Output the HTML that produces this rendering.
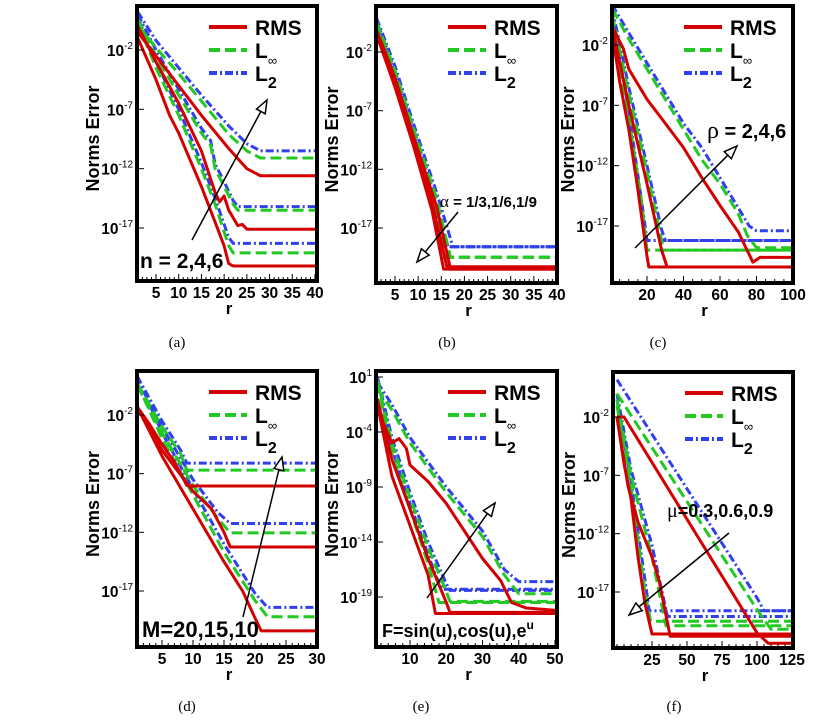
<!DOCTYPE html>
<html><head><meta charset="utf-8"><style>
body{margin:0;background:#fff;}
svg{display:block;font-family:"Liberation Sans",Arial,sans-serif;}
.tick{font-weight:bold;font-size:15.5px;}
.cap{font-family:"Liberation Serif",serif;font-size:15px;}
</style></head><body>
<svg id="fig" width="838" height="724" viewBox="0 0 838 724"></svg>
<script>
// ---------- data (x = r, y = log10 error) ----------
const aRMS=[[[1,-1],[5,-4.5],[8,-7.5],[10,-9],[15,-13.5],[18,-16.5],[20,-18.5],[21,-20],[22,-20.2],[40,-20.2]],
 [[1,0],[5,-3],[10,-6.5],[15,-10.5],[18,-14],[19,-14.8],[20,-14.3],[21,-15.5],[23,-16.8],[24,-16.7],[25,-17.1],[40,-17.1]],
 [[1,-0.5],[5,-2.5],[10,-5],[15,-7.5],[21,-10.3],[25,-12],[28,-12.6],[40,-12.6]]];
const aLinf=[[[1,0.3],[5,-3.5],[10,-7.5],[15,-12],[18,-15],[21,-18.5],[22,-19.1],[40,-19.1]],
 [[1,0.6],[5,-2.5],[10,-5.8],[15,-9],[17,-10],[18,-12],[20,-13.5],[22,-15],[23,-15.5],[40,-15.5]],
 [[1,0.1],[5,-1.8],[10,-4],[15,-6.3],[21,-9.1],[25,-10.5],[28,-11.1],[40,-11.1]]];
const aL2=[[[1,0.8],[5,-3],[10,-7],[15,-11.5],[18,-14.5],[21,-17.8],[22,-18.3],[40,-18.3]],
 [[1,1],[5,-2],[10,-5.3],[15,-8.6],[17,-9.6],[18,-11.6],[20,-13.1],[22,-14.7],[23,-15.2],[40,-15.2]],
 [[1,1.2],[5,-1.2],[10,-3.5],[15,-5.8],[21,-8.4],[25,-9.9],[28,-10.5],[40,-10.5]]];
const bRMS=[[[1,-0.5],[5,-5],[9,-10],[13,-15.5],[15.5,-20.5],[40,-20.5]],
 [[1,-0.3],[5,-4.6],[9,-9.6],[13,-14.8],[16.2,-20.3],[40,-20.3]],
 [[1,-0.1],[5,-4.2],[9,-9.2],[14,-15.2],[17,-20.5],[40,-20.5]]];
const bLinf=[[[1,0.2],[5,-4.4],[9,-9.3],[13,-14.8],[15.5,-19.5],[40,-19.5]],
 [[1,0.4],[5,-4],[9,-8.9],[13,-14.1],[16.3,-19.5],[40,-19.5]],
 [[1,0.6],[5,-3.6],[9,-8.5],[14,-14.5],[17,-19.5],[40,-19.5]]];
const bL2=[[[1,0.5],[5,-4],[9,-8.9],[13,-14.4],[15.5,-18.6],[40,-18.6]],
 [[1,0.7],[5,-3.6],[9,-8.5],[13,-13.7],[16.4,-18.6],[40,-18.6]],
 [[1,0.9],[5,-3.2],[9,-8.1],[14,-14],[17.5,-18.6],[40,-18.6]]];
const cRMS=[[[1,-1],[5,-5],[10,-9],[15,-14],[20,-19.5],[21,-20.4],[100,-20.4]],
 [[1,-0.5],[10,-7],[20,-13.5],[28,-19],[31,-20.4],[100,-20.4]],
 [[1,-0.5],[7,-2.3],[10,-4],[20,-6.5],[30,-8.5],[40,-10.5],[50,-13],[60,-15.3],[70,-17.5],[78,-20],[82,-19.6],[100,-19.6]]];
const cLinf=[[[1,0],[10,-8],[17,-15],[20,-19],[100,-19]],
 [[1,0.5],[10,-6],[20,-12.5],[27,-17.5],[29,-19],[100,-19]],
 [[1,1],[10,-1.5],[20,-4],[30,-6.5],[40,-9],[50,-11.5],[60,-13.5],[70,-16],[75,-17.8],[80,-18.8],[100,-18.8]]];
const cL2=[[[1,0.5],[10,-7.5],[18,-16],[20,-18.2],[100,-18.2]],
 [[1,1],[10,-5.5],[20,-12],[28,-17.3],[30,-18.2],[100,-18.2]],
 [[1,1.3],[10,-1],[20,-3.5],[30,-6],[40,-8.5],[50,-10.5],[60,-13],[70,-15.5],[76,-17],[80,-17.4],[100,-17.4]]];
const dRMS=[[[1,-1.3],[5,-5.5],[10,-10],[15,-14.5],[18,-17],[20,-19.3],[21,-20.4],[30,-20.4]],
 [[1,-1.3],[5,-5],[10,-8.5],[13,-10],[15,-12],[16,-13.25],[30,-13.25]],
 [[1,-1.3],[3,-2.8],[5,-4.5],[7,-6],[9,-8],[10,-8.05],[30,-8.05]]];
const dLinf=[[[1,0.7],[5,-4],[10,-8.8],[15,-13.7],[20,-17.8],[22,-19.2],[30,-19.2]],
 [[1,0.5],[5,-3.5],[10,-8],[14,-10.8],[16,-12.05],[30,-12.05]],
 [[1,0.7],[5,-3],[8,-5.3],[9,-6.7],[30,-6.7]]];
const dL2=[[[1,1.3],[5,-3.5],[10,-8.3],[15,-13],[20,-17.2],[22,-18.4],[30,-18.4]],
 [[1,1.3],[5,-3],[10,-7.5],[14,-10.3],[16,-11.25],[30,-11.25]],
 [[1,1.3],[5,-2.5],[8,-5],[9,-6.1],[30,-6.1]]];
const eRMS=[[[1,-1.5],[5,-8],[10,-12.5],[15,-17],[17,-20.5],[50,-20.5]],
 [[1,-1],[5,-6.5],[10,-11],[15,-15.5],[20,-19.5],[21,-20.4],[50,-20.4]],
 [[1,-2],[5,-5],[7,-4.6],[9,-5.5],[10,-7],[15,-8.5],[20,-10.5],[25,-13],[30,-15.5],[35,-17.5],[38,-19.5],[42,-20],[50,-20.2]]];
const eLinf=[[[1,0.5],[5,-6],[10,-11],[15,-16],[18,-19.5],[50,-19.5]],
 [[1,0.7],[5,-5],[10,-10],[15,-14.5],[20,-18.5],[21,-19.4],[50,-19.4]],
 [[1,0],[5,-2],[10,-5],[20,-9.5],[30,-13.5],[36,-17],[40,-18.7],[50,-18.7]]];
const eL2=[[[1,1],[5,-5.5],[10,-10.5],[17,-17],[19,-18.3],[50,-18.3]],
 [[1,1],[5,-4.5],[10,-9.5],[15,-14],[20,-17.8],[21,-18.4],[50,-18.4]],
 [[1,0.5],[5,-1.5],[10,-4.5],[20,-9],[30,-13],[36,-16.5],[40,-17.6],[50,-17.6]]];
const fRMS=[[[0,-2],[5,-6],[10,-9],[15,-14],[20,-18],[25,-20.6],[125,-20.6]],
 [[0,-2],[8,-8],[15,-11],[25,-14],[30,-16],[38,-20.8],[125,-20.8]],
 [[0,-2],[5,-2],[100,-20.5],[108,-21.4],[125,-21.4]]];
const fLinf=[[[0,-1],[10,-8],[20,-17],[24,-19.5],[125,-19.5]],
 [[0,-0.5],[10,-7],[25,-14],[35,-19.9],[125,-19.9]],
 [[0,0],[100,-18.5],[110,-20.2],[125,-20.2]]];
const fL2=[[[0,-0.5],[10,-7.5],[20,-16],[23,-18.6],[125,-18.6]],
 [[0,0],[10,-6.5],[25,-13],[36,-19.1],[125,-19.1]],
 [[0,1.2],[100,-17.5],[105,-18.6],[125,-18.6]]];
// tick labels
const aXTicks=[5,10,15,20,25,30,35,40], dXTicks=[5,10,15,20,25,30];
const cXTicks=[20,40,60,80,100], eXTicks=[10,20,30,40,50], fXTicks=[25,50,75,100,125];
const stdYTicks=[-2,-7,-12,-17], eYTicks=[1,-4,-9,-14,-19];

const NS='http://www.w3.org/2000/svg';
const svg=document.getElementById('fig');
function mk(tag,attrs,parent){const e=document.createElementNS(NS,tag);for(const k in attrs)e.setAttribute(k,attrs[k]);(parent||svg).appendChild(e);return e;}

const panels=[
 {id:'a',box:[137,6,317,281],ym:[-2,50,-17,228],xm:[5,156,40,315],xt:aXTicks,yt:stdYTicks,minor:1,xmin:1,xmax:40,d:[aRMS,aLinf,aL2],cap:[177,347]},
 {id:'b',box:[376,6,557,283],ym:[-2,52,-17,228],xm:[5,395,40,557],xt:aXTicks,yt:stdYTicks,minor:1,xmin:1,xmax:40,d:[bRMS,bLinf,bL2],cap:[447,347]},
 {id:'c',box:[612,6,793,283],ym:[-2,45,-17,226],xm:[20,647,100,793],xt:cXTicks,yt:stdYTicks,minor:5,xmin:1,xmax:100,d:[cRMS,cLinf,cL2],cap:[658,347]},
 {id:'d',box:[137,371,317,647],ym:[-2,415,-17,591],xm:[5,162,30,317],xt:dXTicks,yt:stdYTicks,minor:1,xmin:1,xmax:30,d:[dRMS,dLinf,dL2],cap:[187,711]},
 {id:'e',box:[376,371,557,647],ym:[1,377,-19,597],xm:[10,410,50,555],xt:eXTicks,yt:eYTicks,minor:2,xmin:1,xmax:50,d:[eRMS,eLinf,eL2],cap:[421,711]},
 {id:'f',box:[613,372,793,648],ym:[-2,417,-17,592],xm:[25,652,125,792],xt:fXTicks,yt:stdYTicks,minor:5,xmin:0,xmax:125,d:[fRMS,fLinf,fL2],cap:[674,711]}
];
const styles=[{c:'#d40000',dash:'none',n:'rms'},{c:'#22c922',dash:'11,5',n:'linf'},{c:'#3040ee',dash:'8,3,2,3',n:'l2'}];

panels.forEach(p=>{
 const [x0,y0,x1,y1]=p.box;
 const sx=v=>p.xm[1]+(v-p.xm[0])*(p.xm[3]-p.xm[1])/(p.xm[2]-p.xm[0]);
 const sy=v=>p.ym[1]+(v-p.ym[0])*(p.ym[3]-p.ym[1])/(p.ym[2]-p.ym[0]);
 const g=mk('g',{});
 
 
 const cp=mk('clipPath',{id:'clip'+p.id},g);
 mk('rect',{x:x0,y:y0,width:x1-x0,height:y1-y0},cp);
 const sg=mk('g',{'clip-path':'url(#clip'+p.id+')'},g);
 [2,1,0].forEach(si=>{
  p.d[si].forEach((curve,gi)=>{
   const pts=curve.map(q=>sx(q[0]).toFixed(1)+','+sy(q[1]).toFixed(1)).join(' ');
   const pl=mk('polyline',{points:pts,fill:'none',stroke:styles[si].c,'stroke-width':3,'stroke-dasharray':styles[si].dash,'stroke-linejoin':'round'},sg);
   
   
  });
 });
 for(let v=Math.ceil(p.xmin/p.minor)*p.minor; v<=p.xmax; v+=p.minor){
  const X=sx(v); if(X<x0||X>x1)continue;
  const big=p.xt.includes(v);
  mk('line',{x1:X,x2:X,y1:y1,y2:y1-(big?7:4),stroke:'#000','stroke-width':1},g);
 }
 p.xt.forEach(v=>{
  const t=mk('text',{x:sx(v),y:y1+17,'text-anchor':'middle',class:'tick'},g);
  t.textContent=v;
  
  
 });
 p.yt.forEach(v=>{
  const Y=sy(v);
  mk('line',{x1:x0,x2:x0+7,y1:Y,y2:Y,stroke:'#000','stroke-width':1},g);
  const t=mk('text',{x:x0-4,y:Y+6,'text-anchor':'end',class:'tick'},g);
  
  
  const a=mk('tspan',{},t);a.textContent='10';
  const b=mk('tspan',{dy:-7,'font-size':'10px','font-weight':'normal'},t);b.textContent=String(v);
 });
 mk('rect',{x:x0,y:y0,width:x1-x0,height:y1-y0,fill:'none',stroke:'#000','stroke-width':4},g);
 const yl=mk('text',{x:0,y:0,transform:'translate('+(x0-38)+','+((y0+y1)/2-5)+') rotate(-90)','text-anchor':'middle','font-weight':'bold','font-size':'18px'},g);
 yl.textContent='Norms Error';
 
 
 const xl=mk('text',{x:(x0+x1)/2+2,y:y1+33,'text-anchor':'middle','font-weight':'bold','font-size':'17px'},g);
 xl.textContent='r';
 
 
 const cap=mk('text',{x:p.cap[0],y:p.cap[1],'text-anchor':'middle',class:'cap'},g);
 cap.textContent='('+p.id+')';
 
 
 const lg=mk('g',{},g);
 
 
 const labels=['RMS','L','L'];const subs=['','∞','2'];
 [0,1,2].forEach(i=>{
  const Y=y0+21+i*23;
  mk('line',{x1:x0+72,x2:x0+110,y1:Y,y2:Y,stroke:styles[i].c,'stroke-width':4,'stroke-dasharray':styles[i].dash},lg);
  const t=mk('text',{x:x0+118,y:Y+8,'font-weight':'bold','font-size':'21px'},lg);
  
  
  const a=mk('tspan',{},t);a.textContent=labels[i];
  if(subs[i]){const b=mk('tspan',{dy:7,'font-size':i==1?'13px':'16px','font-weight':i==1?'normal':'bold'},t);b.textContent=subs[i];}
 });
});

function arrow(xa,ya,xb,yb,name){
 const g=mk('g',{});
 
 
 const ang=Math.atan2(yb-ya,xb-xa),L=13,W=5;
 const bx=xb-L*Math.cos(ang),by=yb-L*Math.sin(ang);
 mk('line',{x1:xa,y1:ya,x2:bx,y2:by,stroke:'#000','stroke-width':1.5},g);
 const px=-Math.sin(ang)*W,py=Math.cos(ang)*W;
 mk('polygon',{points:`${xb},${yb} ${bx+px},${by+py} ${bx-px},${by-py}`,fill:'#fff',stroke:'#000','stroke-width':1.5},g);
}
function label(x,y,size,html,name){
 const t=mk('text',{x:x,y:y,'font-weight':'bold','font-size':size+'px'});
 t.innerHTML=html;
 
 
}
arrow(192,240,267,100,'arrow-a');
label(140,268,21,'n = 2,4,6','annotation-n');
arrow(458,212,417,262,'arrow-b');
label(440,207,15,'<tspan font-family="Liberation Serif" font-weight="normal" font-size="17px">α</tspan> = 1/3,1/6,1/9','annotation-alpha');
arrow(635,248,737,146,'arrow-c');
label(707,138,20,'<tspan font-family="Liberation Serif" font-weight="normal" font-size="24px">ρ</tspan> = 2,4,6','annotation-rho');
arrow(243,617,282,457,'arrow-d');
label(142,637,22,'M=20,15,10','annotation-m');
arrow(427,598,495,503,'arrow-e');
label(382,637,18,'F=sin(u),cos(u),e<tspan dy="-8" font-size="12px">u</tspan>','annotation-f');
arrow(729,533,629,615,'arrow-f');
label(667,517,18,'<tspan font-family="Liberation Serif" font-weight="normal" font-size="20px">μ</tspan>=0.3,0.6,0.9','annotation-mu');
</script>
</body></html>
